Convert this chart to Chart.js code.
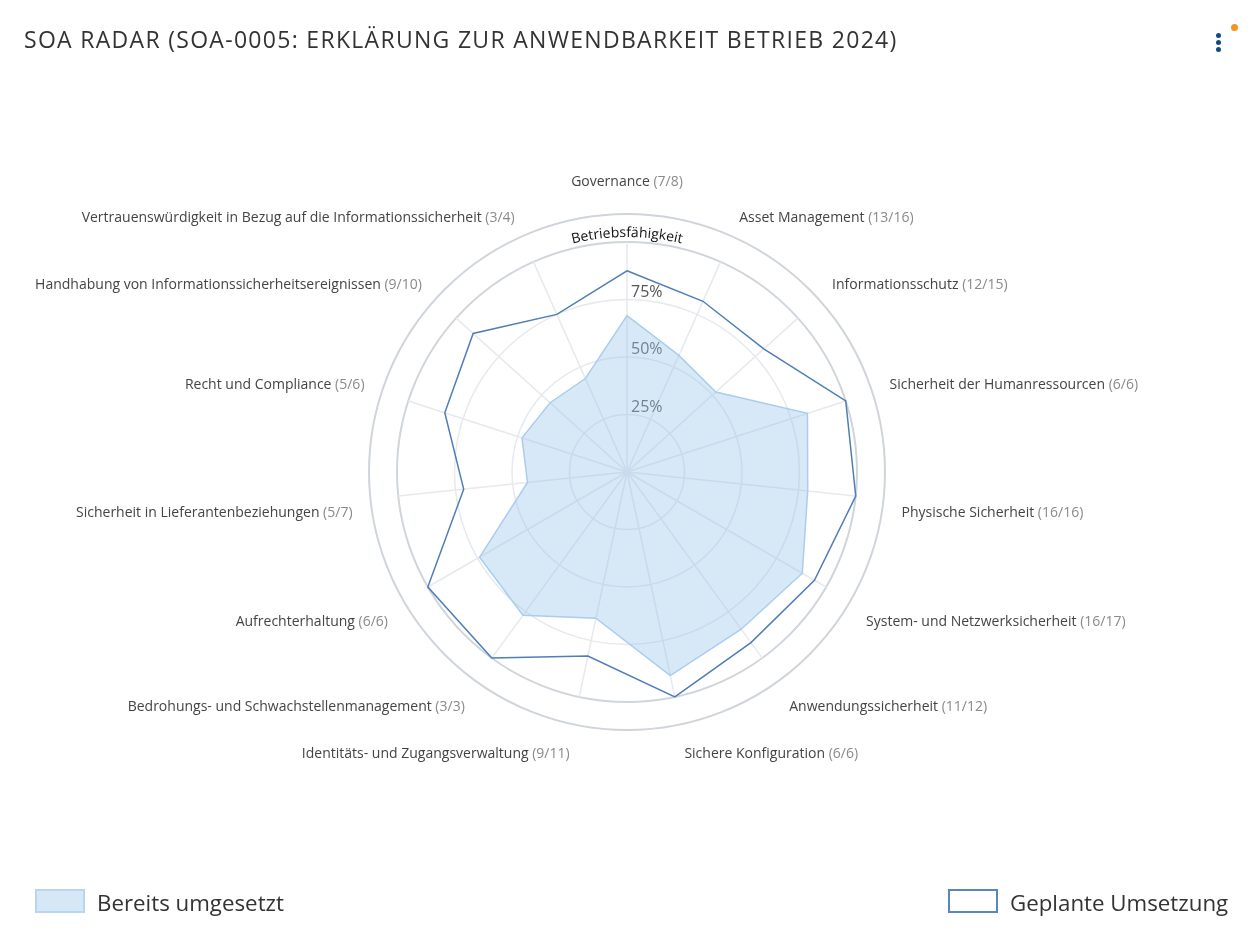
<!DOCTYPE html>
<html lang="de">
<head>
<meta charset="utf-8">
<title>SOA Radar</title>
<script src="https://cdn.jsdelivr.net/npm/chart.js@4.4.1/dist/chart.umd.min.js"></script>
<style>
  html, body { margin: 0; padding: 0; background: #fff; }
  #wrap { position: relative; width: 1254px; height: 943px; overflow: hidden; font-family: "Open Sans", sans-serif; }
  #soaChart { position: absolute; left: 0; top: 0; }
  h1 { position: absolute; left: 24px; top: 28px; margin: 0; font-weight: 400; font-size: 23px; line-height: 23px;
       letter-spacing: 1.3px; color: #333; white-space: nowrap; }
  .dot { position: absolute; width: 5px; height: 5px; border-radius: 50%; background: #0f4c81; }
  .notify { position: absolute; left: 1231px; top: 24px; width: 7px; height: 7px; border-radius: 50%; background: #f7941d; }
  .legend { position: absolute; top: 889px; display: flex; align-items: flex-start; font-size: 22.3px; line-height: 23px; color: #333; white-space: nowrap; }
  .legend .box { box-sizing: border-box; width: 50px; height: 24px; margin-right: 12px; }
  .legend span { position: relative; top: 2px; }
</style>
</head>
<body>
<div id="wrap">
  <canvas id="soaChart" width="1254" height="943"></canvas>
  <h1>SOA RADAR (SOA-0005: ERKLÄRUNG ZUR ANWENDBARKEIT BETRIEB 2024)</h1>
  <div class="dot" style="left:1216px; top:33px"></div>
  <div class="dot" style="left:1216px; top:40px"></div>
  <div class="dot" style="left:1216px; top:47px"></div>
  <div class="notify"></div>
  <div class="legend" style="left:35px">
    <div class="box" style="background:#d6e7f6; border:2px solid #b7d6f1"></div><span>Bereits umgesetzt</span>
  </div>
  <div class="legend" style="left:948px">
    <div class="box" style="background:#fff; border:2px solid #5a86bd"></div><span>Geplante Umsetzung</span>
  </div>
</div>
<script>
// Kategorien im Uhrzeigersinn, beginnend oben
const kategorien = [
  "Governance",
  "Asset Management",
  "Informationsschutz",
  "Sicherheit der Humanressourcen",
  "Physische Sicherheit",
  "System- und Netzwerksicherheit",
  "Anwendungssicherheit",
  "Sichere Konfiguration",
  "Identitäts- und Zugangsverwaltung",
  "Bedrohungs- und Schwachstellenmanagement",
  "Aufrechterhaltung",
  "Sicherheit in Lieferantenbeziehungen",
  "Recht und Compliance",
  "Handhabung von Informationssicherheitsereignissen",
  "Vertrauenswürdigkeit in Bezug auf die Informationssicherheit"
];
const anzahlGeplant = [7, 13, 12, 6, 16, 16, 11, 6, 9, 3, 6, 5, 5, 9, 3];
const anzahlGesamt = [8, 16, 15, 6, 16, 17, 12, 6, 11, 3, 6, 7, 6, 10, 4];

const bereitsUmgesetzt = [0.68, 0.555, 0.52, 0.825, 0.79, 0.88, 0.845, 0.905, 0.65, 0.77, 0.74, 0.435, 0.48, 0.45, 0.445];
const geplanteUmsetzung = [0.875, 0.8125, 0.8, 1, 1, 0.941, 0.917, 1, 0.818, 1, 1, 0.714, 0.833, 0.9, 0.75];

const tickWerte = [0.25, 0.5, 0.75];
const tickTexte = ["25%", "50%", "75%"];
const ringTitel = "Betriebsfähigkeit";

const FONT = '"Open Sans", sans-serif';

// Prozentbeschriftung neben der Achse, vor den Datensätzen gezeichnet
const tickTextPlugin = {
  id: "tickText",
  beforeDatasetsDraw(chart) {
    const s = chart.scales.r;
    const ctx = chart.ctx;
    ctx.save();
    ctx.font = "16px " + FONT;
    ctx.fillStyle = "#555";
    ctx.textAlign = "left";
    ctx.textBaseline = "alphabetic";
    tickWerte.forEach((v, i) => {
      const d = s.getDistanceFromCenterForValue(v);
      ctx.fillText(tickTexte[i], s.xCenter + 4, s.yCenter - d - 3);
    });
    ctx.restore();
  }
};

// äußerer Ring mit gebogenem Titel
const ringPlugin = {
  id: "ring",
  beforeDatasetsDraw(chart) {
    const s = chart.scales.r;
    const ctx = chart.ctx;
    ctx.save();
    ctx.strokeStyle = "#d0d5db";
    ctx.lineWidth = 2;
    ctx.beginPath();
    ctx.arc(s.xCenter, s.yCenter, s.drawingArea + 28, 0, Math.PI * 2);
    ctx.stroke();

    ctx.font = "14px " + FONT;
    ctx.fillStyle = "#111";
    ctx.textAlign = "center";
    ctx.textBaseline = "alphabetic";
    const r = s.drawingArea + 5;
    const total = ctx.measureText(ringTitel).width;
    let a = -Math.PI / 2 - total / r / 2;
    for (const ch of ringTitel) {
      const w = ctx.measureText(ch).width;
      const mid = a + w / r / 2;
      ctx.save();
      ctx.translate(s.xCenter, s.yCenter);
      ctx.rotate(mid + Math.PI / 2);
      ctx.fillText(ch, 0, -r);
      ctx.restore();
      a += w / r;
    }
    ctx.restore();
  }
};

// Kategoriebeschriftung mit zweifarbiger Anzahl
const labelPlugin = {
  id: "pointText",
  afterDraw(chart) {
    const s = chart.scales.r;
    const ctx = chart.ctx;
    ctx.save();
    ctx.font = "14px " + FONT;
    ctx.textBaseline = "middle";
    ctx.textAlign = "left";
    kategorien.forEach((name, i) => {
      const deg = Math.round(((i * 360) / kategorien.length) % 360);
      const extra = deg === 0 ? 12 : 0;
      const p = s.getPointPosition(i, s.drawingArea + 46 + extra);
      const count = " (" + anzahlGeplant[i] + "/" + anzahlGesamt[i] + ")";
      const w1 = ctx.measureText(name).width;
      const w2 = ctx.measureText(count).width;
      let x;
      if (deg === 0 || deg === 180) x = p.x - (w1 + w2) / 2;
      else if (deg < 180) x = p.x;
      else x = p.x - w1 - w2;
      let y;
      if (deg === 90 || deg === 270) y = p.y;
      else if (deg > 90 && deg < 270) y = p.y + 7;
      else y = p.y - 7;
      y += 5;
      ctx.fillStyle = "#444";
      ctx.fillText(name, x, y);
      ctx.fillStyle = "#8a8a8a";
      ctx.fillText(count, x + w1, y);
    });
    ctx.restore();
  }
};

new Chart(document.getElementById("soaChart"), {
  type: "radar",
  data: {
    labels: kategorien,
    datasets: [
      {
        label: "Geplante Umsetzung",
        data: geplanteUmsetzung,
        borderColor: "#4f7db7",
        borderWidth: 1.5,
        backgroundColor: "rgba(0,0,0,0)",
        fill: false,
        pointRadius: 0,
        pointHoverRadius: 0
      },
      {
        label: "Bereits umgesetzt",
        data: bereitsUmgesetzt,
        borderColor: "#aacdef",
        borderWidth: 1.5,
        backgroundColor: "rgba(155, 197, 235, 0.4)",
        fill: true,
        pointRadius: 0,
        pointHoverRadius: 0
      }
    ]
  },
  options: {
    responsive: false,
    animation: false,
    devicePixelRatio: 1,
    layout: {
      padding: { top: 242, bottom: 241, left: 0, right: 0 }
    },
    plugins: {
      legend: { display: false },
      title: { display: false },
      tooltip: { enabled: false }
    },
    elements: {
      line: { tension: 0 }
    },
    scales: {
      r: {
        min: 0,
        max: 1,
        ticks: {
          display: false,
          stepSize: 0.25
        },
        pointLabels: {
          display: false
        },
        grid: {
          circular: true,
          color: (c) => (c.tick && c.tick.value === 1 ? "#d0d5db" : "#e6e9ed"),
          lineWidth: (c) => (c.tick && c.tick.value === 1 ? 2 : 1.5)
        },
        angleLines: {
          color: "#e6e9ed",
          lineWidth: 1.5
        }
      }
    }
  },
  plugins: [tickTextPlugin, ringPlugin, labelPlugin]
});
</script>
</body>
</html>
